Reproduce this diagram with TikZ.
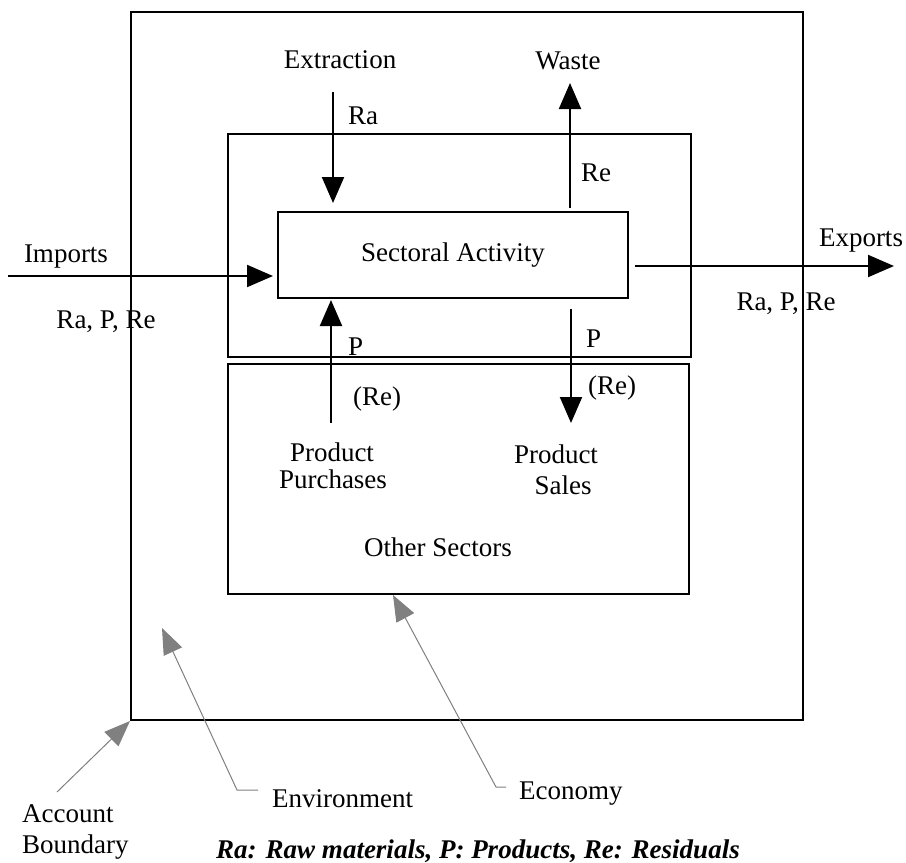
\documentclass[tikz,border=0pt]{standalone}
\usepackage{fontspec}
\setmainfont{Liberation Serif}
\usetikzlibrary{arrows.meta}
\begin{document}
\begin{tikzpicture}[x=1pt,y=-1pt,
  box/.style={draw, line width=2pt, anchor=north west, inner sep=0pt},
  lbl/.style={font=\fontsize{27}{30}\selectfont, inner sep=0pt},
  arr/.style={line width=2pt, -{Triangle[length=26pt,width=22pt]}},
  garr/.style={draw=gray, line width=1pt, -{Triangle[length=26pt,width=20pt]}},
]
\useasboundingbox[fill=white] (0,0) rectangle (906,863);

% boxes
\node[box, minimum width=672pt, minimum height=708pt] (outer) at (130,11) {};
\node[box, minimum width=463pt, minimum height=223pt] (econ) at (227,133) {};
\node[box, minimum width=461pt, minimum height=230pt] (others) at (227,363) {};
\node[box, minimum width=350pt, minimum height=86pt, font=\fontsize{27}{30}\selectfont] (act) at (277,211) {Sectoral Activity};

% labels
\node[lbl, anchor=base] (extraction) at (340,68) {Extraction};
\node[lbl, anchor=base] (waste) at (568,69) {Waste};
\node[lbl, anchor=base west] (ra) at (348,124) {Ra};
\node[lbl, anchor=base west] (rewaste) at (581,181) {Re};
\node[lbl, anchor=base] (imports) at (66,262) {Imports};
\node[lbl, anchor=base] (implbl) at (106,328) {Ra, P, Re};
\node[lbl, anchor=base] (exports) at (861,246) {Exports};
\node[lbl, anchor=base] (explbl) at (786,310) {Ra, P, Re};
\node[lbl, anchor=base west] (pleft) at (348,355) {P};
\node[lbl, anchor=base west] (releft) at (353,405) {(Re)};
\node[lbl, anchor=base west] (pright) at (586,347) {P};
\node[lbl, anchor=base west] (reright) at (588,394) {(Re)};
\node[lbl, anchor=base] (purch1) at (332,461) {Product};
\node[lbl, anchor=base] (purch2) at (333,488) {Purchases};
\node[lbl, anchor=base] (sales1) at (556,463) {Product};
\node[lbl, anchor=base] (sales2) at (563,494) {Sales};
\node[lbl, anchor=base] (othertext) at (438,556) {Other Sectors};
\node[lbl, anchor=base west] (acc1) at (22,822) {Account};
\node[lbl, anchor=base west] (acc2) at (22,853) {Boundary};
\node[lbl, anchor=base west] (env) at (272,807) {Environment};
\node[lbl, anchor=base west] (eco) at (519,799) {Economy};
\node[lbl, anchor=base, font=\fontsize{27}{30}\selectfont\bfseries\itshape] (caption) at (478,858) {Ra: Raw materials, P: Products, Re: Residuals};

% coordinates for free ends
\coordinate (extstart) at (333,92);
\coordinate (wastetip) at (570,83);
\coordinate (impstart) at (8,276);
\coordinate (exptip) at (894,266);
\coordinate (purstart) at (331,423);
\coordinate (salestip) at (571,423);
\coordinate (abstart) at (57,792);
\coordinate (envtip) at (162,628);

% black flow arrows
\draw[arr, shorten >=8pt] (extstart) -- (extstart |- act.north);
\draw[arr] ([yshift=3pt]act.north -| wastetip) -- (wastetip);
\draw[arr, shorten >=4pt] (impstart) -- (impstart -| act.west);
\draw[arr, shorten <=6pt] (exptip -| act.east) -- (exptip);
\draw[arr, shorten >=1pt] (purstart) -- (purstart |- act.south);
\draw[arr, shorten <=10pt] (salestip |- act.south) -- (salestip);

% gray pointer arrows
\draw[garr] (abstart) -- (outer.south west);
\draw[garr] ([xshift=-14pt,yshift=17pt]env.base west) -- ++(-21,0) -- (envtip);
\draw[garr] ([xshift=-13pt,yshift=12pt]eco.base west) -- ++(-10,0) -- ([xshift=166pt]others.south west);
\end{tikzpicture}
\end{document}
